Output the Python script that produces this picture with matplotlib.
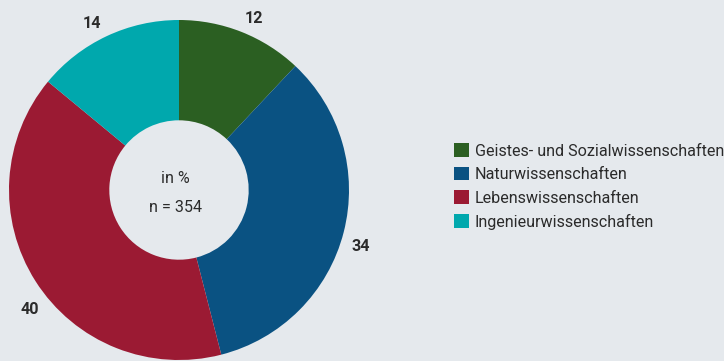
#! /usr/bin/env python3
# coding: utf-8

import matplotlib
matplotlib.use('Agg')
import matplotlib.pyplot as plt

categories = ['Geistes- und Sozialwissenschaften', 'Naturwissenschaften',
              'Lebenswissenschaften', 'Ingenieurwissenschaften']
shares = [12, 34, 40, 14]
sample_size = 354

colors = ['#2b5f22', '#0a5282', '#9b1a33', '#00a8ad']
bg = '#e5e9ed'
text_color = '#2b2b2b'

plt.rcParams['font.family'] = ['DejaVu Sans Condensed', 'Roboto', 'DejaVu Sans']
fs = 11.6

fig = plt.figure(figsize=(7.24, 3.61), dpi=100, facecolor=bg)
ax = fig.add_axes([9 / 724, 1 / 361, 340 / 724, 340 / 361])
ax.set_facecolor(bg)

wedges, _ = ax.pie(shares, colors=colors, startangle=90, counterclock=False,
                   radius=1.0, wedgeprops=dict(width=0.59, linewidth=0))
ax.set_xlim(-1, 1)
ax.set_ylim(-1, 1)
ax.set_aspect('equal')
ax.axis('off')

# value labels around the ring
label_pos = [(0.44, 1.01), (1.07, -0.33), (-0.88, -0.70), (-0.51, 0.98)]
for (x, y), v in zip(label_pos, shares):
    ax.text(x, y, str(v), ha='center', va='center', fontsize=fs,
            fontweight='bold', color=text_color)

ax.text(-0.02, 0.07, 'in %', ha='center', va='center', fontsize=fs,
        color=text_color)
ax.text(-0.02, -0.10, 'n = %d' % sample_size, ha='center', va='center',
        fontsize=fs, color=text_color)

fig.legend(wedges, categories, loc='upper left',
           bbox_to_anchor=(446 / 724, 1 - 135 / 361), frameon=False,
           fontsize=fs, handlelength=0.95, handleheight=0.95,
           handletextpad=0.35, labelspacing=0.5, borderpad=0,
           labelcolor=text_color)

plt.savefig('out.png', dpi=100, facecolor=bg)
